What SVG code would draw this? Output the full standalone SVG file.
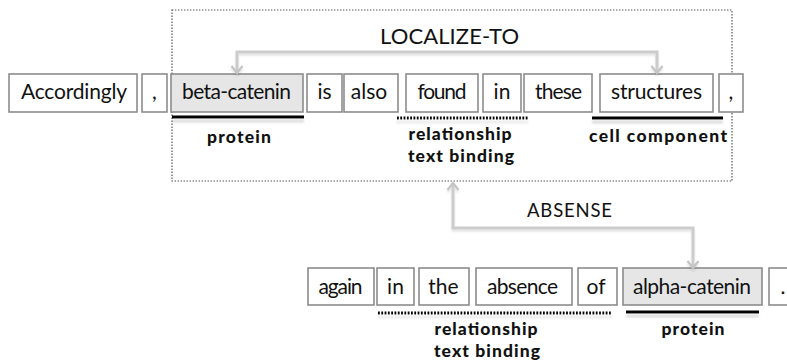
<svg xmlns="http://www.w3.org/2000/svg" width="787" height="362" viewBox="0 0 787 362">
  <style>
    .tok rect { fill: #ffffff; stroke: #8c8c8c; stroke-width: 1.6; }
    .tok.hl rect { fill: #e6e6e6; }
    .tok text { font-family: Lato, "Open Sans", "Liberation Sans", sans-serif; font-size: 21px; fill: #111111; text-anchor: middle; }
    .rel { font-family: Lato, "Open Sans", "Liberation Sans", sans-serif; fill: #111111; text-anchor: middle; }
    .lbl { font-family: Lato, "Liberation Sans", sans-serif; font-weight: 900; font-size: 17.5px; fill: #111111; text-anchor: middle; }
    .conn { fill: none; stroke: #cccccc; stroke-width: 3; filter: url(#soft); }
    .solid { stroke: #000000; stroke-width: 3.2; filter: url(#under); }
    .dots { stroke: #000000; stroke-width: 3; stroke-dasharray: 1.8 1.5; filter: url(#under); }
    .frame { fill: none; stroke: #555555; stroke-width: 1.2; stroke-dasharray: 1.4 1.6; }
  </style>
  <defs>
    <filter id="soft" filterUnits="userSpaceOnUse" x="0" y="0" width="787" height="362">
      <feDropShadow dx="0" dy="2" stdDeviation="1" flood-color="#000000" flood-opacity="0.12"/>
    </filter>
    <filter id="under" filterUnits="userSpaceOnUse" x="0" y="0" width="787" height="362">
      <feDropShadow dx="0" dy="4" stdDeviation="1.3" flood-color="#999999" flood-opacity="0.35"/>
    </filter>
    <marker id="chev" markerUnits="userSpaceOnUse" markerWidth="14" markerHeight="14" refX="10" refY="7" orient="auto-start-reverse">
      <path d="M3,1.5 L10,7 L3,12.5" fill="none" stroke="#c4c4c4" stroke-width="2.2"/>
    </marker>
  </defs>

  <!-- frame around the first sentence's relation -->
  <rect class="frame" x="172" y="10" width="560" height="171"/>

  <!-- sentence 1 -->
  <g id="t-accordingly" class="tok"><rect x="9" y="74" width="128" height="38"/><text x="74" y="99" textLength="106">Accordingly</text></g>
  <g id="t-comma1" class="tok"><rect x="142" y="74" width="25" height="38"/><text x="154.5" y="99">,</text></g>
  <g id="t-beta-catenin" class="tok hl"><rect x="171" y="74" width="132" height="38"/><text x="236.5" y="99" textLength="109">beta-catenin</text></g>
  <g id="t-is" class="tok"><rect x="307" y="74" width="35" height="38"/><text x="324.5" y="99">is</text></g>
  <g id="t-also" class="tok"><rect x="344" y="74" width="54" height="38"/><text x="369" y="99">also</text></g>
  <g id="t-found" class="tok"><rect x="406" y="74" width="72" height="38"/><text x="442" y="99" textLength="49">found</text></g>
  <g id="t-in1" class="tok"><rect x="483" y="74" width="38" height="38"/><text x="502" y="99">in</text></g>
  <g id="t-these" class="tok"><rect x="524" y="74" width="68" height="38"/><text x="558.5" y="99" textLength="47">these</text></g>
  <g id="t-structures" class="tok"><rect x="600" y="74" width="113" height="38"/><text x="656.5" y="99" textLength="91">structures</text></g>
  <g id="t-comma2" class="tok"><rect x="719" y="74" width="24" height="38"/><text x="731" y="99">,</text></g>

  <!-- sentence 2 -->
  <g id="t-again" class="tok"><rect x="308" y="268" width="66" height="37"/><text x="340.5" y="294" textLength="44">again</text></g>
  <g id="t-in2" class="tok"><rect x="377" y="268" width="37" height="37"/><text x="395.5" y="294">in</text></g>
  <g id="t-the" class="tok"><rect x="419" y="268" width="50" height="37"/><text x="443.5" y="294">the</text></g>
  <g id="t-absence" class="tok"><rect x="476" y="268" width="96" height="37"/><text x="522.5" y="294" textLength="71">absence</text></g>
  <g id="t-of" class="tok"><rect x="578" y="268" width="39" height="37"/><text x="596" y="294">of</text></g>
  <g id="t-alpha-catenin" class="tok hl"><rect x="623" y="268" width="139" height="37"/><text x="692" y="294" textLength="118">alpha-catenin</text></g>
  <g id="t-period" class="tok"><rect x="769" y="268" width="30" height="37"/><text x="783" y="294">.</text></g>

  <!-- annotation spans -->
  <g id="spans">
    <line class="solid" x1="172" y1="117" x2="304" y2="117"/>
    <line class="dots" x1="397" y1="118" x2="528" y2="118"/>
    <line class="solid" x1="592" y1="118" x2="723" y2="118"/>
    <line class="dots" x1="378" y1="313" x2="611" y2="313"/>
    <line class="solid" x1="626" y1="312" x2="759" y2="312"/>
  </g>
  <g id="span-labels">
    <text class="lbl" x="239" y="143" textLength="64">protein</text>
    <text class="lbl" x="460" y="140" textLength="103">relationship</text>
    <text class="lbl" x="461" y="162" textLength="106">text binding</text>
    <text class="lbl" x="658" y="142" textLength="138">cell component</text>
    <text class="lbl" x="486" y="335" textLength="103">relationship</text>
    <text class="lbl" x="487" y="357" textLength="106">text binding</text>
    <text class="lbl" x="693" y="335" textLength="63">protein</text>
  </g>

  <!-- relation connectors -->
  <g id="connectors">
    <path id="c-localize" class="conn" d="M237,73 V52 H657 V73" marker-start="url(#chev)" marker-end="url(#chev)"/>
    <path id="c-absense" class="conn" d="M453,183 V228 H693 V268" marker-start="url(#chev)" marker-end="url(#chev)"/>
    <text class="rel" x="449.5" y="44" font-size="22" textLength="139">LOCALIZE-TO</text>
    <text class="rel" x="569.5" y="217" font-size="18.5" textLength="85">ABSENSE</text>
  </g>
</svg>
